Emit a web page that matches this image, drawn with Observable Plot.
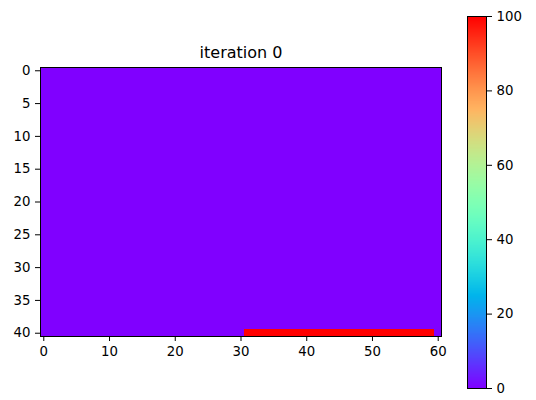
<!DOCTYPE html>
<html>
<head>
<meta charset="utf-8">
<script src="https://cdn.jsdelivr.net/npm/d3@7"></script>
<script src="https://cdn.jsdelivr.net/npm/@observablehq/plot@0.6"></script>
<style>
  html, body { margin: 0; padding: 0; background: #fff; }
  #wrap { position: relative; width: 536px; height: 400px; }
  #wrap svg { position: absolute; left: 0; top: 0; }
</style>
</head>
<body>
<div id="wrap"></div>
<script>
// ---- data ----
const title = "iteration 0";
const nRows = 41;           // rows 0..40
const nCols = 61;           // columns 0..60
const baseValue = 0;
const hotRow = 40;
const hotCols = [31, 59];   // inclusive range of hot cells in the bottom row
const hotValue = 100;
const xTicks = [0, 10, 20, 30, 40, 50, 60];
const yTicks = [0, 5, 10, 15, 20, 25, 30, 35, 40];
const cbTicks = [0, 20, 40, 60, 80, 100];
const colorDomain = [0, 100];

// matplotlib "rainbow" colormap
function rainbow(t) {
  t = Math.max(0, Math.min(1, t));
  const r = Math.max(0, Math.min(1, Math.abs(2 * t - 0.5)));
  const g = Math.sin(Math.PI * t);
  const b = Math.cos(Math.PI * t / 2);
  return d3.rgb(r * 255, g * 255, b * 255).formatHex();
}

const cells = [];
for (let r = 0; r < nRows; r++) {
  for (let c = 0; c < nCols; c++) {
    const v = (r === hotRow && c >= hotCols[0] && c <= hotCols[1]) ? hotValue : baseValue;
    cells.push({row: r, col: c, value: v});
  }
}

const font = "DejaVu Sans, sans-serif";
const tickFont = 13.3;
const colorScale = {type: "linear", domain: colorDomain, interpolate: rainbow};

const main = Plot.plot({
  width: 536,
  height: 400,
  marginLeft: 40,
  marginRight: 95,
  marginTop: 67,
  marginBottom: 64,
  style: {fontFamily: font, fontSize: tickFont + "px", color: "#000", background: "transparent"},
  x: {type: "linear", domain: [-0.5, nCols - 0.5], ticks: xTicks, label: null},
  y: {type: "linear", domain: [-0.5, nRows - 0.5], reverse: true, ticks: yTicks, label: null},
  color: colorScale,
  marks: [
    Plot.rect(cells, {
      x1: d => d.col - 0.5, x2: d => d.col + 0.5,
      y1: d => d.row - 0.5, y2: d => d.row + 0.5,
      fill: "value", shapeRendering: "crispEdges"
    }),
    Plot.frame({stroke: "#000", strokeWidth: 1}),
    Plot.axisX({ticks: xTicks, tickSize: 5, tickPadding: 5, fontSize: tickFont, label: null}),
    Plot.axisY({ticks: yTicks, tickSize: 5, tickPadding: 5, fontSize: tickFont, label: null}),
    Plot.text([title], {frameAnchor: "top", dy: -15, fontSize: 16, fill: "#000", lineAnchor: "middle"})
  ]
});

const cb = Plot.plot({
  width: 536,
  height: 400,
  marginLeft: 467,
  marginRight: 50,
  marginTop: 16,
  marginBottom: 12,
  style: {fontFamily: font, fontSize: tickFont + "px", color: "#000", background: "transparent"},
  x: {type: "linear", domain: [0, 1], axis: null},
  y: {type: "linear", domain: colorDomain, ticks: cbTicks, label: null},
  color: colorScale,
  marks: [
    Plot.raster({fill: (x, y) => y, x1: 0, x2: 1, y1: colorDomain[0], y2: colorDomain[1], width: 1, height: 256}),
    Plot.frame({stroke: "#000", strokeWidth: 1}),
    Plot.axisY({anchor: "right", ticks: cbTicks, tickSize: 5, tickPadding: 5, fontSize: tickFont, label: null})
  ]
});

const wrap = document.getElementById("wrap");
wrap.appendChild(main);
wrap.appendChild(cb);
</script>
</body>
</html>
